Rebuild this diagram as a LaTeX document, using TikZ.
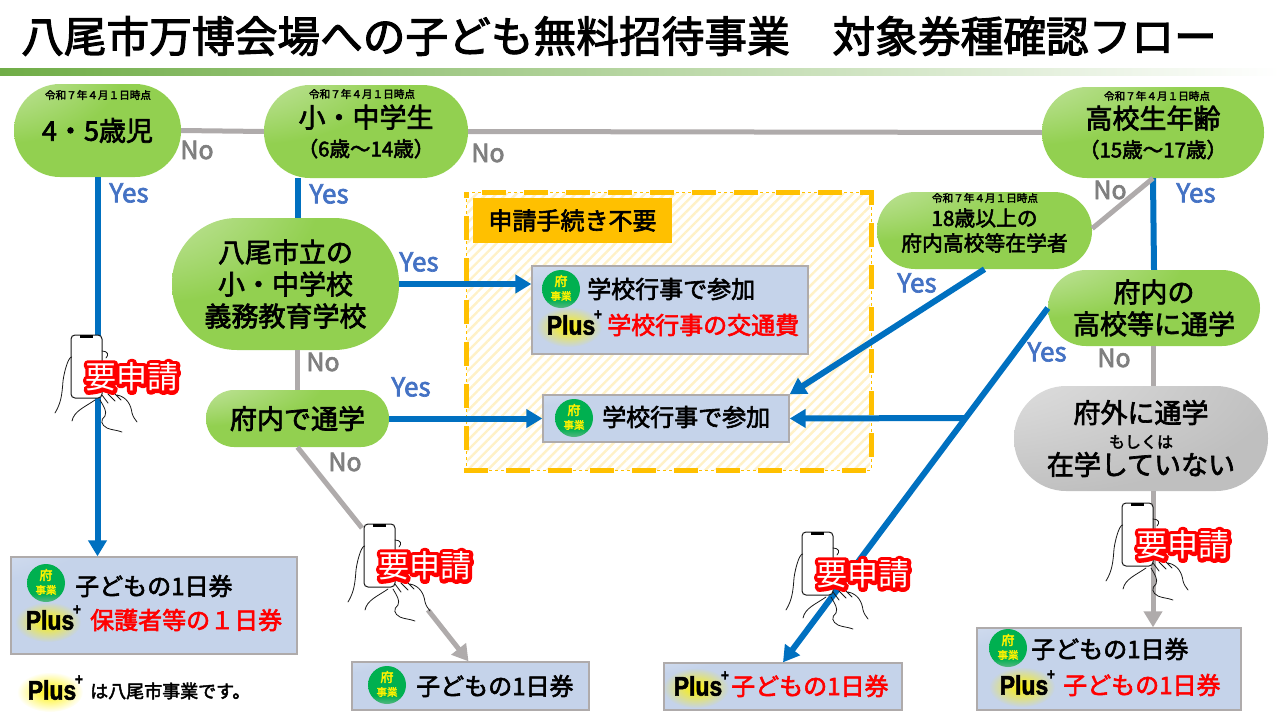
\documentclass[tikz,border=0pt]{standalone}
\usepackage{fontspec}
\setmainfont{Noto Sans CJK JP}[FakeBold=2.5]
\newfontfamily\plusfont{Liberation Sans Bold}[FakeStretch=0.85,FakeBold=2]
\newfontfamily\tagfont{Noto Sans CJK JP}[FakeBold=24]
\newfontfamily\tagthin{Noto Sans CJK JP}
\usetikzlibrary{arrows.meta,patterns.meta,fadings}
\newcommand{\fz}[2]{\fontsize{#1pt}{#2pt}\selectfont}
\definecolor{leaf}{HTML}{92D050}
\definecolor{leaflite}{HTML}{E4F2D6}
\definecolor{tile}{HTML}{C5D3EA}
\definecolor{tilelite}{HTML}{F4F6FB}
\definecolor{stone}{HTML}{BFBFBF}
\definecolor{stonelite}{HTML}{F0F0F0}
\definecolor{blueline}{HTML}{0070C0}
\definecolor{greyline}{HTML}{AFABAB}
\definecolor{gold}{HTML}{FFC000}
\definecolor{yesblue}{HTML}{4472C4}
\definecolor{nogrey}{HTML}{7F7F7F}
\definecolor{barleft}{HTML}{70AD47}
\definecolor{stamp}{HTML}{00B050}
\pgfdeclareradialshading{leafglow}{\pgfpoint{-45bp}{45bp}}{color(0bp)=(leaflite);color(38bp)=(leaf);color(120bp)=(leaf)}
\pgfdeclareradialshading{tileglow}{\pgfpoint{-50bp}{50bp}}{color(0bp)=(tilelite);color(28bp)=(tile);color(120bp)=(tile)}
\pgfdeclareradialshading{stoneglow}{\pgfpoint{-50bp}{50bp}}{color(0bp)=(stonelite);color(55bp)=(stone);color(120bp)=(stone)}
\pgfdeclareverticalshading{stampfade}{100bp}{color(0bp)=(stamp!35!lightgray);color(20bp)=(stamp!35!lightgray);color(36bp)=(stamp);color(100bp)=(stamp)}
\tikzfading[name=softglow,inner color=transparent!0,outer color=transparent!100]
\tikzset{
  blob/.style n args={3}{shade,shading=leafglow,minimum width=#1,minimum height=#2,rounded corners=#3,
    inner sep=0pt,align=center,font=\fz{27}{32}},
  tilebox/.style 2 args={shade,shading=tileglow,draw=greyline,line width=1.3pt,minimum width=#1,minimum height=#2,inner sep=0pt},
  blueway/.style={draw=blueline,line width=6pt},
  greyway/.style={draw=greyline,line width=5pt},
  bluearrow/.style={blueway,-{Triangle[width=18pt,length=16pt]}},
  greyarrow/.style={greyway,-{Triangle[width=18pt,length=16pt]}},
  yeslabel/.style={text=yesblue,inner sep=0pt,font=\fz{26}{26}},
  nolabel/.style={text=nogrey,inner sep=0pt,font=\fz{25}{25}},
  datelabel/.style={inner sep=0pt,font=\fz{10.6}{11}},
  blacktext/.style={inner sep=0pt,anchor=west,font=\fz{24}{24}},
  redtext/.style={blacktext,text=red},
  badge/.pic={
    \shade[shading=stampfade] (0,0) circle (19pt);
    \node[inner sep=0pt,text=yellow,font=\fz{13}{13}] (-up) at (0,-8) {府};
    \node[inner sep=0pt,text=yellow,font=\fz{10.5}{11}] (-low) at (0,7) {事業};
  },
  plusmark/.pic={
    \fill[yellow,path fading=softglow] (-2,2) ellipse (33pt and 20pt);
    \node[inner sep=0pt,font=\fz{27}{27}\plusfont] (-word) at (0,0) {Plus};
    \node[inner sep=0pt,font=\fz{16}{16}\plusfont] (-sign) at (27,-10) {+};
  },
  phone/.pic={
    \draw[black!90,line width=1pt,fill=white,rounded corners=4pt] (0,0) rectangle (31,63);
    \fill[black] (9,0) rectangle (22,2.5);
    \draw[black!90,line width=0.8pt,line cap=round]
      (0.7,22) .. controls (-3,22) and (-7,38) .. (-8,46) .. controls (-9,60) and (-10,68) .. (-16,78)
      (1,86) .. controls (3,76) and (14,72) .. (24,65)
      (31,16) .. controls (37,16) and (38,20) .. (35,23)
      (29,65) .. controls (33,72) and (36,76) .. (34,81) .. controls (29,85) and (30,90) .. (36,93) .. controls (40,95) and (46,95) .. (51,97)
      (46,60) .. controls (56,62) and (60,70) .. (61,78) .. controls (62,82) and (64,84) .. (66,87)
      (31,60) -- (37,68) (37,59) -- (44,66) (44,59) -- (50,65);
    \node[inner sep=0pt,text=red,font=\fz{31}{31}\tagfont] (-halo) at (61,42) {\special{pdf:code 1 j 1 J}要申請};
    \node[inner sep=0pt,text=white,font=\fz{31}{31}\tagthin] (-tag) at (61,42) {要申請};
  }
}
\begin{document}
\begin{tikzpicture}[x=1pt,y=-1pt]
\useasboundingbox (0,0) rectangle (1280,720);
% heading
\node[anchor=west,inner sep=0pt,font=\fz{42.7}{44}] (heading) at (21,36) {八尾市万博会場への子ども無料招待事業　対象券種確認フロー};
\fill[left color=barleft,right color=white] (0,68) rectangle (1280,75);
% hatched area
\path[fill=white,pattern={Lines[angle=45,distance=7pt,line width=2.4pt]},pattern color=gold!22] (467,193) rectangle (870,469);
\node[fill=gold,minimum width=199pt,minimum height=45pt,inner sep=0pt,font=\fz{24}{24}] (notneeded) at (572.5,220.5) {申請手続き不要};
\draw[gold,line width=0.7pt,dash pattern=on 3pt off 3pt] (466,192) -- (871,192) -- (871,470) -- (466,470) -- cycle;
\draw[gold,line width=5pt,dash pattern=on 24pt off 18pt,dash phase=26pt] (466,192) -- (871,192) -- (871,470) -- (466,470) -- cycle;

% questions
\node[blob={167pt}{93pt}{46pt}] (age45) at (97.5,130.5) {4・5歳児};
\node[blob={204pt}{93pt}{46pt}] (pupil) at (366,131.5) {小・中学生\\[-3pt]{\fz{20.5}{26}（6歳～14歳）}};
\node[blob={222pt}{91pt}{45pt}] (highage) at (1153,132.5) {高校生年齢\\[-3pt]{\fz{20.5}{26}（15歳～17歳）}};
\node[blob={227pt}{132pt}{65pt}] (cityschool) at (285.5,284) {八尾市立の\\小・中学校\\義務教育学校};
\node[blob={183pt}{57pt}{28pt}] (commute) at (297.5,418.5) {府内で通学};
\node[blob={215pt}{77pt}{38pt},font=\fz{20.8}{25}] (adult) at (984.5,230.5) {18歳以上の\\府内高校等在学者};
\node[blob={212pt}{76pt}{38pt}] (inside) at (1154,308) {府内の\\高校等に通学};
\node[blob={254pt}{105pt}{52pt},shading=stoneglow] (outside) at (1141,438.5) {府外に通学\\[-7pt]{\fz{16}{20}もしくは}\\[-5pt]在学していない};
\node[datelabel] (date1) at (98,95) {令和７年４月１日時点};
\node[datelabel] (date2) at (362,94) {令和７年４月１日時点};
\node[datelabel] (date3) at (1157,96) {令和７年４月１日時点};
\node[datelabel] (date4) at (985,198) {令和７年４月１日時点};

% results
\node[tilebox={286pt}{97pt}] (ticket1) at (154,605.5) {};
\node[tilebox={276pt}{88pt}] (event1) at (670,310) {};
\node[tilebox={246pt}{47pt}] (event2) at (666,418.5) {};
\node[tilebox={237pt}{48pt}] (ticket2) at (470.5,686) {};
\node[tilebox={238pt}{47pt}] (ticket3) at (783,686.5) {};
\node[tilebox={264pt}{82pt}] (ticket4) at (1109,669) {};

% connectors
\draw[greyway] (age45.east) -- (pupil.west);
\draw[greyway] (pupil.east) -- (highage.west);
\draw[bluearrow] (age45.south) -- (age45.south |- ticket1.north);
\draw[blueway] (commute.north |- pupil.south) -- (commute.north |- cityschool.north);
\draw[greyway] (commute.north |- cityschool.south) -- (commute.north);
\draw[bluearrow] (cityschool.east) -- (cityschool.east -| event1.west);
\draw[bluearrow] (commute.east) -- (commute.east -| event2.west);
\coordinate (hidein) at (362,528);
\coordinate (hideout) at (428,610);
\draw[greyway] (commute.south) -- (hidein);
\draw[greyarrow] (hideout) -- ([xshift=-2pt]ticket2.north);
\draw[blueway] (highage.south) -- (inside.north);
\draw[greyway] (highage.south) -- ([yshift=2pt]adult.east);
\draw[bluearrow] (adult.south) -- (event2.north east);
\draw[bluearrow] (inside.west) -- (ticket3.north);
\coordinate (fork) at (965,418);
\draw[bluearrow] (fork) -- (event2.east);
\draw[greyway] (highage.south |- inside.south) -- (highage.south |- outside.north);
\draw[greyarrow] (highage.south |- outside.south) -- (highage.south |- ticket4.north);

% phones
\pic (phone1) at (71,335) {phone};
\pic (phone2) at (364,524) {phone};
\pic (phone3) at (802,532) {phone};
\pic (phone4) at (1122,503) {phone};

% box contents
\pic (badge1) at (46,583) {badge};
\pic (badge2) at (561,289) {badge};
\pic (badge3) at (574,418) {badge};
\pic (badge4) at (387,685) {badge};
\pic (badge5) at (1008,648) {badge};
\pic (plus1) at (50,620) {plusmark};
\pic (plus2) at (571,325) {plusmark};
\pic (plus3) at (698,686) {plusmark};
\pic (plus4) at (1024,685) {plusmark};
\pic (plus5) at (52,690) {plusmark};
\node[blacktext] (text1) at (75,586) {子どもの1日券};
\node[redtext] (text2) at (90,620) {保護者等の１日券};
\node[blacktext] (text3) at (587,289) {学校行事で参加};
\node[redtext] (text4) at (607,325) {学校行事の交通費};
\node[blacktext] (text5) at (602,417) {学校行事で参加};
\node[blacktext] (text6) at (416,686) {子どもの1日券};
\node[redtext] (text7) at (731,686) {子どもの1日券};
\node[blacktext] (text8) at (1031,649) {子どもの1日券};
\node[redtext] (text9) at (1063,685) {子どもの1日券};
\node[blacktext,font=\fz{18}{18}] (note) at (90,691) {は八尾市事業です。};

% answers
\node[nolabel] (no1) at (197,150) {No};
\node[nolabel] (no2) at (488,153) {No};
\node[nolabel] (no3) at (1110,190) {No};
\node[nolabel] (no4) at (323,362) {No};
\node[nolabel] (no5) at (345,462) {No};
\node[nolabel] (no6) at (1114,358) {No};
\node[yeslabel] (yes1) at (129,193) {Yes};
\node[yeslabel] (yes2) at (329,194) {Yes};
\node[yeslabel] (yes3) at (419,262) {Yes};
\node[yeslabel] (yes4) at (411,387) {Yes};
\node[yeslabel] (yes5) at (917,283) {Yes};
\node[yeslabel] (yes6) at (1196,193) {Yes};
\node[yeslabel] (yes7) at (1047,352) {Yes};
\end{tikzpicture}
\end{document}
